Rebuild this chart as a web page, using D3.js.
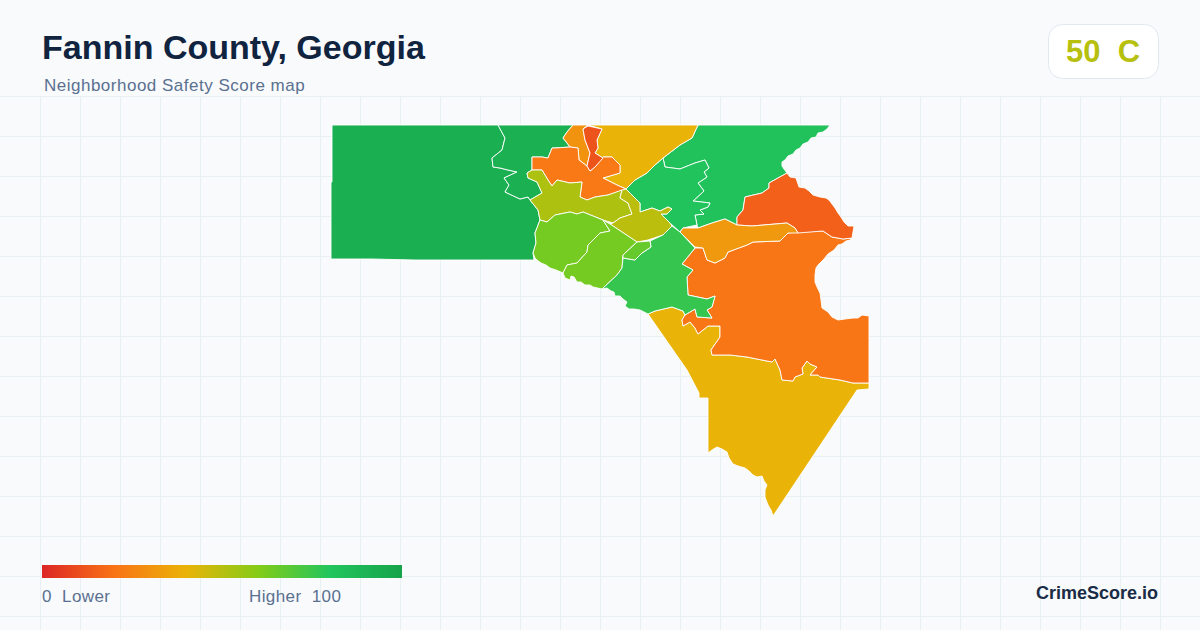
<!DOCTYPE html>
<meta charset="utf-8">
<style>
html, body { margin: 0; padding: 0; background: #f8fafc; }
svg { display: block; }
text { font-family: "Liberation Sans", Arial, sans-serif; white-space: pre; }
</style>
<body>
<svg id="chart" width="1200" height="630"></svg>
<script src="https://cdn.jsdelivr.net/npm/d3@7"></script>
<script>

var title = "Fannin County, Georgia";
var subtitle = "Neighborhood Safety Score map";
var countyScore = 50;
var countyGrade = "C";
var brand = "CrimeScore.io";

// legend colour ramp, score -> colour
var rampScores = [0, 20, 40, 60, 80, 100];
var rampColors = ["#dc2626", "#f97316", "#eab308", "#84cc16", "#22c55e", "#16a34a"];

// neighborhood scores, estimated from the fill colours
var regionNames = ["west", "northwest", "northeast", "center", "south", "eastLarge", "eastTop", "amberStrip",
  "topYellow", "topOrange", "spine", "upperOrange", "olive", "olive2", "lime1", "lime2", "limeSmall", "green"];
var regionScores = [93, 92, 82, 81, 40, 21, 15, 32, 40, 30, 12, 22, 52, 49, 63, 63, 66, 76];

// boundaries, map units
var regionRings = [
  [[332,125],[498,125],[505,138],[502,150],[492,158],[493,167],[500,168],[508,170],[517,172],[504,178],[509,185],[505,192],[520,199],[528,197],[530,200],[538,210],[540,220],[535,233],[536,243],[533,253],[534,260],[415,260],[372,259],[331,259],[331,182],[332,182]],
  [[498,125],[573,125],[567,132],[563,138],[567,143],[570,147],[555,148],[552,148],[548,158],[542,157],[532,157],[532,170],[527,173],[528,178],[537,182],[542,193],[530,200],[528,197],[520,199],[505,192],[509,185],[504,178],[517,172],[508,170],[500,168],[493,167],[492,158],[502,150],[505,138]],
  [[698,125],[830,125],[827,129],[823,132],[818,133],[816,137],[811,138],[808,142],[803,144],[800,148],[796,150],[793,154],[788,156],[785,160],[782,162],[782,166],[784,169],[787,173],[769,183],[769,188],[762,193],[745,197],[743,210],[737,217],[737,225],[725,219],[712,223],[698,228],[697,225],[695,215],[704,214],[700,210],[708,207],[710,203],[693,201],[704,191],[698,183],[707,177],[704,172],[709,168],[705,160],[695,163],[680,169],[665,167],[663,158],[680,145],[692,138]],
  [[626,189],[635,180],[647,173],[655,165],[663,158],[665,167],[680,169],[695,163],[705,160],[709,168],[704,172],[707,177],[698,183],[704,191],[693,201],[710,203],[708,207],[700,210],[704,214],[695,215],[697,225],[683,228],[680,232],[670,223],[661,214],[667,214],[672,209],[668,207],[660,211],[652,208],[640,212],[640,203]],
  [[648,314],[655,311],[672,307],[683,311],[685,315],[682,320],[683,326],[690,322],[695,328],[698,334],[708,326],[720,326],[720,337],[711,350],[712,355],[730,355],[747,357],[772,362],[775,359],[780,370],[782,380],[793,381],[795,377],[803,374],[802,368],[807,361],[810,364],[817,367],[810,375],[818,375],[820,377],[840,380],[853,383],[869,383],[869,389],[857,390],[773,516],[771,510],[768,505],[765,497],[765,490],[767,485],[764,481],[762,476],[757,477],[753,475],[749,471],[745,468],[738,466],[733,464],[729,458],[727,452],[722,449],[717,447],[712,450],[708,453],[708,398],[699,398],[699,393],[687,370]],
  [[695,248],[703,248],[707,260],[715,263],[725,258],[728,252],[747,245],[753,242],[780,241],[788,233],[799,232],[823,231],[832,237],[843,239],[852,238],[850,240],[846,241],[842,244],[838,245],[834,250],[828,254],[824,259],[818,265],[816,268],[815,275],[815,282],[817,287],[820,293],[821,300],[822,308],[828,312],[832,317],[838,320],[845,319],[853,318],[858,318],[862,315],[869,316],[869,383],[853,383],[840,380],[820,377],[818,375],[810,375],[817,367],[810,364],[807,361],[802,368],[803,374],[795,377],[793,381],[782,380],[780,370],[775,359],[772,362],[747,357],[730,355],[712,355],[711,350],[720,337],[720,326],[708,326],[698,334],[695,328],[690,322],[683,326],[682,320],[685,315],[695,309],[697,317],[712,318],[707,310],[712,307],[715,296],[707,299],[688,295],[687,277],[693,270],[682,264]],
  [[787,173],[790,177],[796,178],[797,181],[799,187],[805,188],[809,191],[813,195],[820,197],[826,198],[829,200],[832,204],[835,208],[838,213],[841,217],[844,222],[848,226],[854,226],[853,232],[852,238],[843,239],[832,237],[823,231],[798,233],[795,228],[787,223],[752,226],[737,225],[737,217],[743,210],[745,197],[762,193],[769,188],[769,183]],
  [[680,232],[683,228],[698,228],[712,223],[725,219],[737,225],[752,226],[787,223],[795,228],[798,233],[788,233],[780,241],[753,242],[747,245],[728,252],[725,258],[715,263],[707,260],[703,248],[695,247]],
  [[588,125],[698,125],[692,138],[680,145],[663,158],[655,165],[647,173],[635,180],[626,189],[617,185],[603,178],[620,173],[620,165],[612,157],[603,157],[595,167],[603,158],[595,153],[598,148],[597,140],[602,129]],
  [[573,125],[588,125],[583,129],[585,140],[590,153],[587,166],[579,160],[578,148],[570,147],[567,143],[563,138],[567,132]],
  [[583,129],[588,126],[602,129],[597,140],[598,148],[595,153],[603,158],[595,167],[590,171],[587,166],[590,153],[585,140]],
  [[532,157],[542,157],[548,158],[552,148],[555,148],[570,147],[578,148],[579,160],[587,166],[590,171],[595,167],[603,157],[612,157],[620,165],[620,173],[603,178],[617,185],[626,189],[608,195],[595,197],[587,200],[580,197],[582,182],[570,183],[557,180],[552,186],[548,180],[542,170],[532,170]],
  [[527,173],[532,170],[542,170],[548,180],[552,186],[557,180],[570,183],[582,182],[580,197],[587,200],[595,197],[608,195],[622,190],[620,198],[628,203],[632,214],[620,218],[613,223],[603,220],[583,212],[577,214],[570,212],[555,215],[547,222],[540,220],[538,210],[530,200],[542,193],[537,182],[528,178]],
  [[626,189],[640,203],[640,212],[652,208],[660,211],[668,207],[672,209],[667,214],[661,214],[670,223],[672,226],[663,235],[648,240],[637,242],[610,224],[613,223],[620,218],[632,214],[628,203],[620,198],[622,190]],
  [[540,220],[547,222],[555,215],[570,212],[577,214],[583,212],[603,220],[610,231],[600,233],[588,245],[587,252],[577,263],[567,265],[563,273],[556,270],[550,268],[546,265],[541,263],[537,260],[535,258],[533,253],[536,243],[535,233]],
  [[603,220],[610,224],[637,242],[623,255],[622,268],[617,275],[602,289],[593,287],[590,285],[585,285],[581,282],[577,282],[574,277],[571,276],[570,280],[565,278],[563,273],[567,265],[577,263],[587,252],[588,245],[600,233],[610,231]],
  [[637,242],[650,241],[651,247],[642,253],[635,260],[623,258],[623,255]],
  [[672,226],[680,232],[695,248],[682,264],[693,270],[687,277],[688,295],[707,299],[715,296],[712,307],[707,310],[712,318],[697,317],[695,309],[685,315],[683,311],[672,307],[655,311],[648,314],[640,310],[634,309],[629,309],[625,306],[627,302],[623,299],[620,296],[615,296],[614,292],[611,291],[607,288],[602,289],[617,275],[622,268],[623,258],[635,260],[642,253],[651,247],[650,241],[663,235]]
];

// draw biggest shapes first so the small ones sit on top
var drawOrder = [0, 1, 2, 3, 4, 5, 6, 7, 8, 9, 11, 10, 12, 13, 14, 15, 17, 16];

var svg = d3.select("#chart");

var color = d3.scaleLinear().domain(rampScores).range(rampColors);

// map units to page
var x = d3.scaleLinear().domain([331, 869]).range([331, 869]);
var y = d3.scaleLinear().domain([125, 516]).range([125, 516]);
var legendX = d3.scaleLinear().domain([0, 100]).range([42, 402]);

// background grid
var grid = svg.append("g").attr("stroke", "#e9f0f4").attr("stroke-width", 1);
d3.range(40, 1200, 40).forEach(function(gx) {
  grid.append("line").attr("x1", gx + 0.5).attr("x2", gx + 0.5).attr("y1", 96).attr("y2", 630);
});
d3.range(96, 630, 40).forEach(function(gy) {
  grid.append("line").attr("x1", 0).attr("x2", 1200).attr("y1", gy + 0.5).attr("y2", gy + 0.5);
});

// map
var line = d3.line()
  .x(function(d) { return x(d[0]); })
  .y(function(d) { return y(d[1]); })
  .curve(d3.curveLinearClosed);

svg.append("g").selectAll("path")
  .data(drawOrder)
  .join("path")
    .attr("class", function(i) { return "region " + regionNames[i]; })
    .attr("d", function(i) { return line(regionRings[i]); })
    .attr("fill", function(i) { return color(regionScores[i]); })
    .attr("stroke", "#ffffff")
    .attr("stroke-width", 0.9)
    .attr("stroke-linejoin", "round");

// header
svg.append("text").attr("x", 42).attr("y", 59)
  .attr("font-size", 34).attr("font-weight", 700).attr("fill", "#10243f")
  .text(title);
svg.append("text").attr("x", 44).attr("y", 91)
  .attr("font-size", 17).attr("letter-spacing", 0.5).attr("fill", "#5a7090")
  .text(subtitle);

// score badge
svg.append("rect").attr("x", 1048.5).attr("y", 24.5).attr("width", 110).attr("height", 54).attr("rx", 14)
  .attr("fill", "#ffffff").attr("stroke", "#e2e8f0");
svg.append("text").attr("x", 1103).attr("y", 62).attr("text-anchor", "middle")
  .attr("font-size", 31).attr("font-weight", 700).attr("fill", color(countyScore))
  .text(countyScore + "  " + countyGrade);

// legend
var defs = svg.append("defs");
var grad = defs.append("linearGradient").attr("id", "ramp");
grad.selectAll("stop")
  .data(rampScores)
  .join("stop")
    .attr("offset", function(d) { return d + "%"; })
    .attr("stop-color", function(d) { return color(d); });

svg.append("rect").attr("x", legendX(0)).attr("y", 565).attr("width", legendX(100) - legendX(0)).attr("height", 13)
  .attr("fill", "url(#ramp)");
svg.append("text").attr("x", legendX(0)).attr("y", 602)
  .attr("font-size", 17).attr("letter-spacing", 0.4).attr("fill", "#5a7090")
  .text("0  Lower");
svg.append("text").attr("x", 249).attr("y", 602)
  .attr("font-size", 17).attr("letter-spacing", 0.4).attr("fill", "#5a7090")
  .text("Higher  100");

svg.append("text").attr("x", 1158).attr("y", 599).attr("text-anchor", "end")
  .attr("font-size", 18).attr("font-weight", 700).attr("fill", "#1a2b45")
  .text(brand);

</script>
</body>
